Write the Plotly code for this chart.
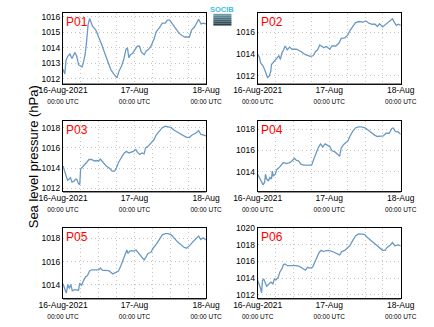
import plotly.graph_objects as go

# ---- data (hours since 16-Aug-2021 00:00 UTC, pressure hPa) ----
p01_t = [0,0.6,1,1.6,2.3,3,4,4.6,5.2,5.9,6.4,6.9,7.4,7.9,8.4,8.9,9.4,9.9,11,12,13,14,15,16,17,18.1,18.8,19.6,20.4,21.1,21.6,22.1,22.6,23.4,24.2,24.9,25.7,26.2,27.2,27.9,28.7,29.5,30.5,31.3,32.3,33.3,34.3,35,35.8,36.8,37.9,38.9,39.9,40.9,42.4,43.1,44.1,45,45.5,46.3,47,48]
p01_v = [1012.6,1012.3,1013.2,1013.45,1013.6,1013.3,1013.7,1013.45,1012.9,1012.8,1012.75,1013.1,1013.55,1014.4,1015.5,1015.9,1015.7,1015.4,1015.15,1014.7,1014.2,1013.65,1013.1,1012.6,1012.3,1012.05,1012.5,1012.8,1013.25,1013.9,1014.0,1013.35,1013.55,1013.65,1013.9,1014.1,1014.1,1013.75,1013.55,1013.8,1013.9,1014.1,1014.55,1015.05,1015.3,1015.6,1015.6,1015.8,1015.8,1015.55,1015.2,1014.95,1014.8,1014.7,1014.7,1015.15,1015.35,1015.7,1015.85,1015.55,1015.6,1015.55]

p02_t = [0,0.5,1,1.8,2.5,3.3,3.9,4.4,4.6,5.2,5.9,6.6,7.1,7.6,8.1,8.7,9.2,9.9,10.7,11.5,13,14.5,16,17.6,18.6,19.4,20.1,20.8,21.4,22.1,23.1,24.2,24.9,26.2,27.2,28,29.2,30.2,30.9,31.8,32.8,34,35.3,36.3,37.3,38.4,39.4,40.1,40.9,41.9,43.1,44.1,45.2,46,46.5,47.2,48]
p02_v = [1013.95,1013.75,1013.2,1012.9,1012.45,1011.85,1012.0,1012.45,1013.05,1013.25,1013.45,1013.75,1013.85,1013.5,1014.1,1014.4,1014.75,1014.4,1014.65,1014.45,1014.45,1014.25,1013.95,1013.8,1013.85,1014.25,1014.4,1014.85,1014.7,1014.6,1014.7,1014.45,1014.75,1014.75,1015.0,1015.45,1015.5,1015.75,1016.15,1016.5,1016.9,1017.0,1016.95,1017.05,1016.85,1016.75,1016.75,1016.55,1016.8,1016.5,1016.8,1017.05,1017.25,1016.85,1016.65,1016.75,1016.65]

p03_t = [0,0.5,1,1.5,2,2.5,3,3.7,4.2,4.6,5.1,5.6,5.9,6.4,7.2,7.9,8.7,9.6,10.5,11.3,12,12.5,13.5,14.5,15.5,16.5,17.3,17.9,18.6,19.4,20.1,20.6,21.3,22.1,22.8,23.6,24.4,24.9,25.7,26.5,27.2,27.7,28.5,29.5,30.5,31.3,32.3,33.3,34.3,35.3,36.3,37.3,38.4,39.4,40.4,41.4,42.4,43.4,44.5,45.5,46.2,47,48]
p03_v = [1014.2,1013.7,1013.25,1012.8,1012.9,1013.05,1012.6,1012.7,1012.9,1012.9,1012.5,1012.35,1013.9,1014.05,1014.35,1014.55,1014.85,1014.85,1014.7,1014.75,1014.7,1014.9,1014.55,1014.2,1014.0,1013.7,1013.7,1014.0,1014.55,1015.0,1015.3,1015.5,1015.65,1015.5,1015.6,1015.65,1015.85,1015.6,1015.35,1015.5,1015.4,1016.0,1016.15,1016.5,1016.8,1017.3,1017.6,1018.0,1018.15,1018.1,1018.0,1017.75,1017.55,1017.35,1017.2,1017.05,1017.05,1017.3,1017.45,1017.7,1017.35,1017.3,1017.2]

p04_t = [0,0.6,1.3,1.8,2.3,2.6,3,3.6,4.1,4.6,4.9,5.2,5.9,6.4,7.1,7.9,8.6,9.6,10.7,11.5,12.3,13,13.7,14.5,15.5,17,18.1,18.8,19.6,20.4,21.1,21.8,22.6,23.4,24.2,24.9,25.9,26.7,27.5,28,28.7,29.5,30.2,30.9,31.8,32.8,33.8,34.8,36,37,38,39.1,40.1,41.1,42.1,43.1,44.1,45,45.5,46.2,47,48]
p04_v = [1013.75,1013.45,1013.0,1012.75,1013.0,1013.75,1013.3,1013.15,1013.45,1013.3,1014.05,1013.6,1013.75,1014.2,1014.35,1014.6,1014.85,1014.75,1014.85,1015.0,1015.25,1015.05,1015.0,1014.7,1014.6,1014.6,1014.6,1015.15,1015.75,1016.3,1016.6,1016.3,1016.6,1016.5,1016.35,1015.95,1015.85,1015.65,1015.45,1016.2,1016.5,1016.7,1016.85,1017.3,1017.75,1018.1,1018.2,1018.2,1018.1,1017.9,1017.65,1017.45,1017.3,1017.35,1017.35,1017.6,1017.6,1018.05,1018.1,1017.75,1017.75,1017.5]

p05_t = [0,0.6,1.1,1.6,2.1,2.6,3.1,3.9,4.6,5.2,5.6,6.2,6.9,7.6,8.2,8.9,9.6,11,12,12.5,13.3,14.5,15.5,16.7,17.8,18.6,19.4,20.1,20.8,21.4,21.8,22.4,23.1,23.8,24.5,25.2,26.2,27.2,27.7,28.5,29.5,30.2,31.3,32.3,33.3,34.3,35.3,36.3,37.3,38.4,39.4,40.4,41.4,42.4,43.4,44.5,45.5,46.2,47,48]
p05_v = [1014.1,1013.75,1013.3,1014.05,1013.7,1014.05,1013.5,1013.6,1013.55,1013.55,1014.15,1013.95,1014.4,1014.7,1014.8,1015.2,1015.3,1015.3,1015.3,1015.45,1015.25,1015.25,1015.2,1014.95,1015.1,1015.2,1015.65,1016.1,1016.65,1017.0,1016.7,1016.9,1016.95,1016.9,1017.0,1016.8,1016.5,1016.15,1016.35,1016.7,1016.8,1017.15,1017.5,1017.9,1018.3,1018.4,1018.4,1018.3,1018.0,1017.7,1017.5,1017.25,1017.15,1017.35,1017.65,1017.9,1018.2,1017.9,1018.05,1017.85]

p06_t = [0,0.5,1,1.3,1.6,2,2.5,3,3.7,4.4,5.1,5.6,6.2,6.9,7.4,8.1,8.6,9.2,9.9,11,12,13,14,15,16,16.7,17.6,18.4,19.1,19.8,20.6,21.3,22.1,22.8,23.6,24.5,25.5,26.7,27.5,28.2,29.2,30.2,30.9,31.8,32.8,33.8,34.8,35.8,36.8,37.9,38.9,39.9,40.9,41.9,42.7,43.4,44.5,45.2,46,47,48]
p06_v = [1013.7,1013.3,1012.7,1012.2,1013.7,1013.9,1013.4,1013.0,1013.25,1013.5,1013.3,1013.9,1013.8,1014.1,1014.7,1015.1,1015.6,1015.7,1015.5,1015.5,1015.5,1015.5,1015.4,1015.2,1014.95,1015.3,1015.2,1015.3,1015.9,1016.5,1017.1,1017.35,1017.2,1017.3,1017.35,1017.3,1017.1,1016.9,1016.8,1017.2,1017.35,1017.7,1017.9,1018.5,1019.1,1019.35,1019.35,1019.3,1018.9,1018.55,1018.3,1017.9,1017.6,1017.35,1017.35,1017.7,1018.0,1018.3,1017.9,1018.0,1017.9]

names = ["P01", "P02", "P03", "P04", "P05", "P06"]
series_t = [p01_t, p02_t, p03_t, p04_t, p05_t, p06_t]
series_v = [p01_v, p02_v, p03_v, p04_v, p05_v, p06_v]
y_ranges = [[1011.68, 1016.27], [1011.3, 1017.8], [1011.68, 1018.68],
            [1012.13, 1018.77], [1012.84, 1018.9], [1011.52, 1020.08]]
y_ticks = [[1012, 1013, 1014, 1015, 1016], [1012, 1014, 1016], [1012, 1014, 1016, 1018],
           [1014, 1016, 1018], [1014, 1016, 1018], [1012, 1014, 1016, 1018, 1020]]

x_tickvals = [0, 6, 12, 18, 24, 30, 36, 42, 48]
sub = "<br><span style='font-size:6.5px'>00:00 UTC</span>"
x_ticktext = ["16-Aug-2021" + sub, "", "", "", "17-Aug" + sub, "", "", "", "18-Aug" + sub]

W, H = 434, 327
cols = [(42, 200), (257, 415)]
rows = [(9, 81), (119, 191), (228, 300)]

FONT = "Liberation Sans, Arial, sans-serif"
GRID = dict(showgrid=True, gridcolor="#c4c4c4", griddash="1px,3px", gridwidth=1)
fig = go.Figure()
layout = dict(width=W, height=H, margin=dict(l=0, r=0, t=0, b=0),
              paper_bgcolor="white", plot_bgcolor="white", showlegend=False,
              font=dict(family=FONT, color="black", size=8.5))
annotations = []
shapes = []
for i in range(6):
    r, c = divmod(i, 2)
    x0, x1 = cols[c]
    y0, y1 = rows[r]
    xa = "xaxis" if i == 0 else f"xaxis{i+1}"
    ya = "yaxis" if i == 0 else f"yaxis{i+1}"
    xr = "x" if i == 0 else f"x{i+1}"
    yr = "y" if i == 0 else f"y{i+1}"
    fig.add_trace(go.Scatter(x=series_t[i], y=series_v[i], mode="lines",
                             line=dict(color="#6b9ac4", width=1.3),
                             xaxis=xr, yaxis=yr))
    layout[xa] = dict(domain=[x0 / W, x1 / W], anchor=yr, range=[0, 48],
                      tickvals=x_tickvals, ticktext=x_ticktext, tickangle=0,
                      showline=True, linecolor="black", linewidth=1, mirror=True,
                      zeroline=False, ticks="", ticklabelstandoff=-2,
                      tickfont=dict(size=8.5, family=FONT), **GRID)
    layout[ya] = dict(domain=[1 - y1 / H, 1 - y0 / H], anchor=xr, range=y_ranges[i],
                      tickvals=y_ticks[i], ticktext=[str(v) for v in y_ticks[i]],
                      showline=True, linecolor="black", linewidth=1, mirror=True,
                      zeroline=False, ticks="",
                      tickfont=dict(size=8.5, family=FONT), **GRID)
    # slightly heavier bottom frame line
    shapes.append(dict(type="line", xref="paper", yref="paper",
                       x0=x0 / W, x1=x1 / W, y0=1 - (y1 + 0.5) / H, y1=1 - (y1 + 0.5) / H,
                       line=dict(color="#222222", width=1)))
    annotations.append(dict(text=names[i], xref="paper", yref="paper",
                            x=(x0 + 1.5) / W, y=1 - (y0 + 0.5) / H,
                            xanchor="left", yanchor="top", showarrow=False,
                            font=dict(size=12, color="#ff0000", family=FONT)))

annotations.append(dict(text="Sea level pressure (hPa)", xref="paper", yref="paper",
                        x=9 / W, y=1 - 156 / H, textangle=-90, showarrow=False,
                        xanchor="center", yanchor="middle",
                        font=dict(size=13, color="black", family=FONT)))
# logo
annotations.append(dict(text="<b>SOCIB</b>", xref="paper", yref="paper",
                        x=218 / W, y=1 - 6 / H, showarrow=False,
                        xanchor="center", yanchor="middle",
                        font=dict(size=7.5, color="#3fc0dc", family=FONT)))
grad = ["#6f9aa8", "#5d8796", "#4d7483", "#3f6170", "#334f5e", "#2a404e"]
for k, col in enumerate(grad):
    shapes.append(dict(type="rect", xref="paper", yref="paper",
                       x0=208 / W, x1=228 / W,
                       y0=1 - (10 + 2 * (k + 1)) / H, y1=1 - (10 + 2 * k) / H,
                       fillcolor=col, line=dict(width=0)))
layout["annotations"] = annotations
layout["shapes"] = shapes
fig.update_layout(**layout)
fig.write_html("out.html")
